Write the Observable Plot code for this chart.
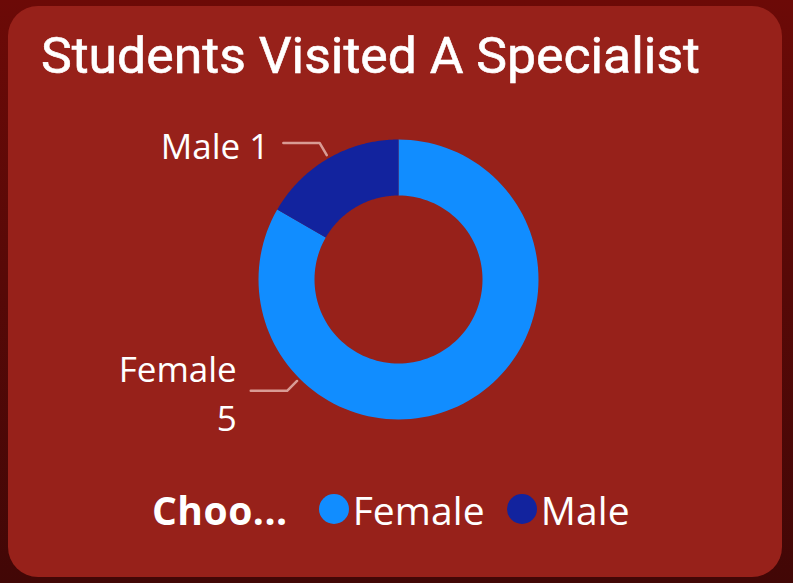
<!DOCTYPE html>
<html><head><meta charset="utf-8">
<script src="https://cdn.jsdelivr.net/npm/d3@7"></script>
<script src="https://cdn.jsdelivr.net/npm/@observablehq/plot@0.6"></script>
<style>
html,body{margin:0;padding:0;}
body{width:793px;height:583px;overflow:hidden;position:relative;
  background:linear-gradient(180deg,#6c0a07 0%,#560907 50%,#420706 100%);}
#card{position:absolute;left:8px;top:6px;width:774px;height:571px;border-radius:30px;background:#97211a;}
#title{position:absolute;left:41px;top:26px;color:#fff;font-family:Roboto,sans-serif;font-size:50px;font-weight:400;white-space:nowrap;transform-origin:0 0;line-height:1.2;-webkit-text-stroke:0.6px #fff;}
#chart{position:absolute;left:0;top:100px;}
#legend{position:absolute;left:152px;top:484px;height:50px;display:flex;align-items:center;color:#fff;font-family:"Open Sans",sans-serif;font-size:39px;white-space:nowrap;}
#legend .t{font-weight:700;margin-right:31px;letter-spacing:0.5px;}
#legend .dot{width:30px;height:30px;border-radius:50%;display:inline-block;margin-right:4px;}
#legend .lab{margin-right:22px;letter-spacing:0.1px;}
</style></head>
<body>
<div id="card"></div>
<div id="title"></div>
<div id="chart"></div>
<div id="legend"></div>
<script>
// ---- data ----
const chartTitle = "Students Visited A Specialist";
const categories = ["Female", "Male"];
const values = [5, 1];
const colors = ["#118DFF", "#12239E"];
const legendTitle = "Choo...";
const labelTexts = ["Female\n5", "Male 1"];

// ---- layout (not data) ----
const innerRatio = 0.6;
const labelAngleDeg = [225, 330];   // where each leader line leaves the ring (clockwise from 12 o'clock)
const leaderR0 = 1.025, leaderR1 = 1.125, leaderRun = 0.26;
const titleWidth = 659;

const titleEl = document.getElementById("title");
titleEl.textContent = chartTitle;
const tw = titleEl.getBoundingClientRect().width;
titleEl.style.transform = `scaleX(${titleWidth / tw})`;

const pie = d3.pie().sort(null).value(d => d.value)(categories.map((c, i) => ({name: c, value: values[i]})));

// polygons for each slice in unit-circle space
const ring = [];
pie.forEach(p => {
  const n = 120;
  const a0 = p.startAngle, a1 = p.endAngle;
  for (let k = 0; k <= n; k++) {
    const a = a0 + (a1 - a0) * k / n;
    ring.push({name: p.data.name, x: Math.sin(a), y: Math.cos(a)});
  }
  for (let k = n; k >= 0; k--) {
    const a = a0 + (a1 - a0) * k / n;
    ring.push({name: p.data.name, x: innerRatio * Math.sin(a), y: innerRatio * Math.cos(a)});
  }
});

const leaders = [], labels = [];
categories.forEach((c, i) => {
  const a = labelAngleDeg[i] * Math.PI / 180;
  const p0 = {x: leaderR0 * Math.sin(a), y: leaderR0 * Math.cos(a)};
  const p1 = {x: leaderR1 * Math.sin(a), y: leaderR1 * Math.cos(a)};
  const p2 = {x: p1.x - leaderRun, y: p1.y};
  [p0, p1, p2].forEach(p => leaders.push({name: c, ...p}));
  labels.push({name: c, text: labelTexts[i], x: p2.x, y: p2.y});
});

const chart = Plot.plot({
  width: 793, height: 370,
  marginLeft: 258, marginRight: 255, marginTop: 39, marginBottom: 51,
  x: {domain: [-1, 1], axis: null},
  y: {domain: [-1, 1], axis: null},
  color: {domain: categories, range: colors},
  style: {background: "transparent", overflow: "visible"},
  marks: [
    Plot.line(ring, {x: "x", y: "y", z: "name", fill: "name", stroke: "none"}),
    Plot.line(leaders, {x: "x", y: "y", z: "name", stroke: "#e0a8a2", strokeWidth: 2.5, strokeOpacity: 0.9}),
    Plot.text(labels, {x: "x", y: "y", text: "text", textAnchor: "end", dx: -14, fill: "#fff",
      fontSize: 35, fontFamily: "'Open Sans', sans-serif", lineHeight: 1.4, lineAnchor: "middle"})
  ]
});
document.getElementById("chart").appendChild(chart);

// legend
const lg = document.getElementById("legend");
const t = document.createElement("span"); t.className = "t"; t.textContent = legendTitle; lg.appendChild(t);
categories.forEach((c, i) => {
  const d = document.createElement("span"); d.className = "dot"; d.style.background = colors[i]; lg.appendChild(d);
  const l = document.createElement("span"); l.className = "lab"; l.textContent = c; lg.appendChild(l);
});
</script>
</body></html>
